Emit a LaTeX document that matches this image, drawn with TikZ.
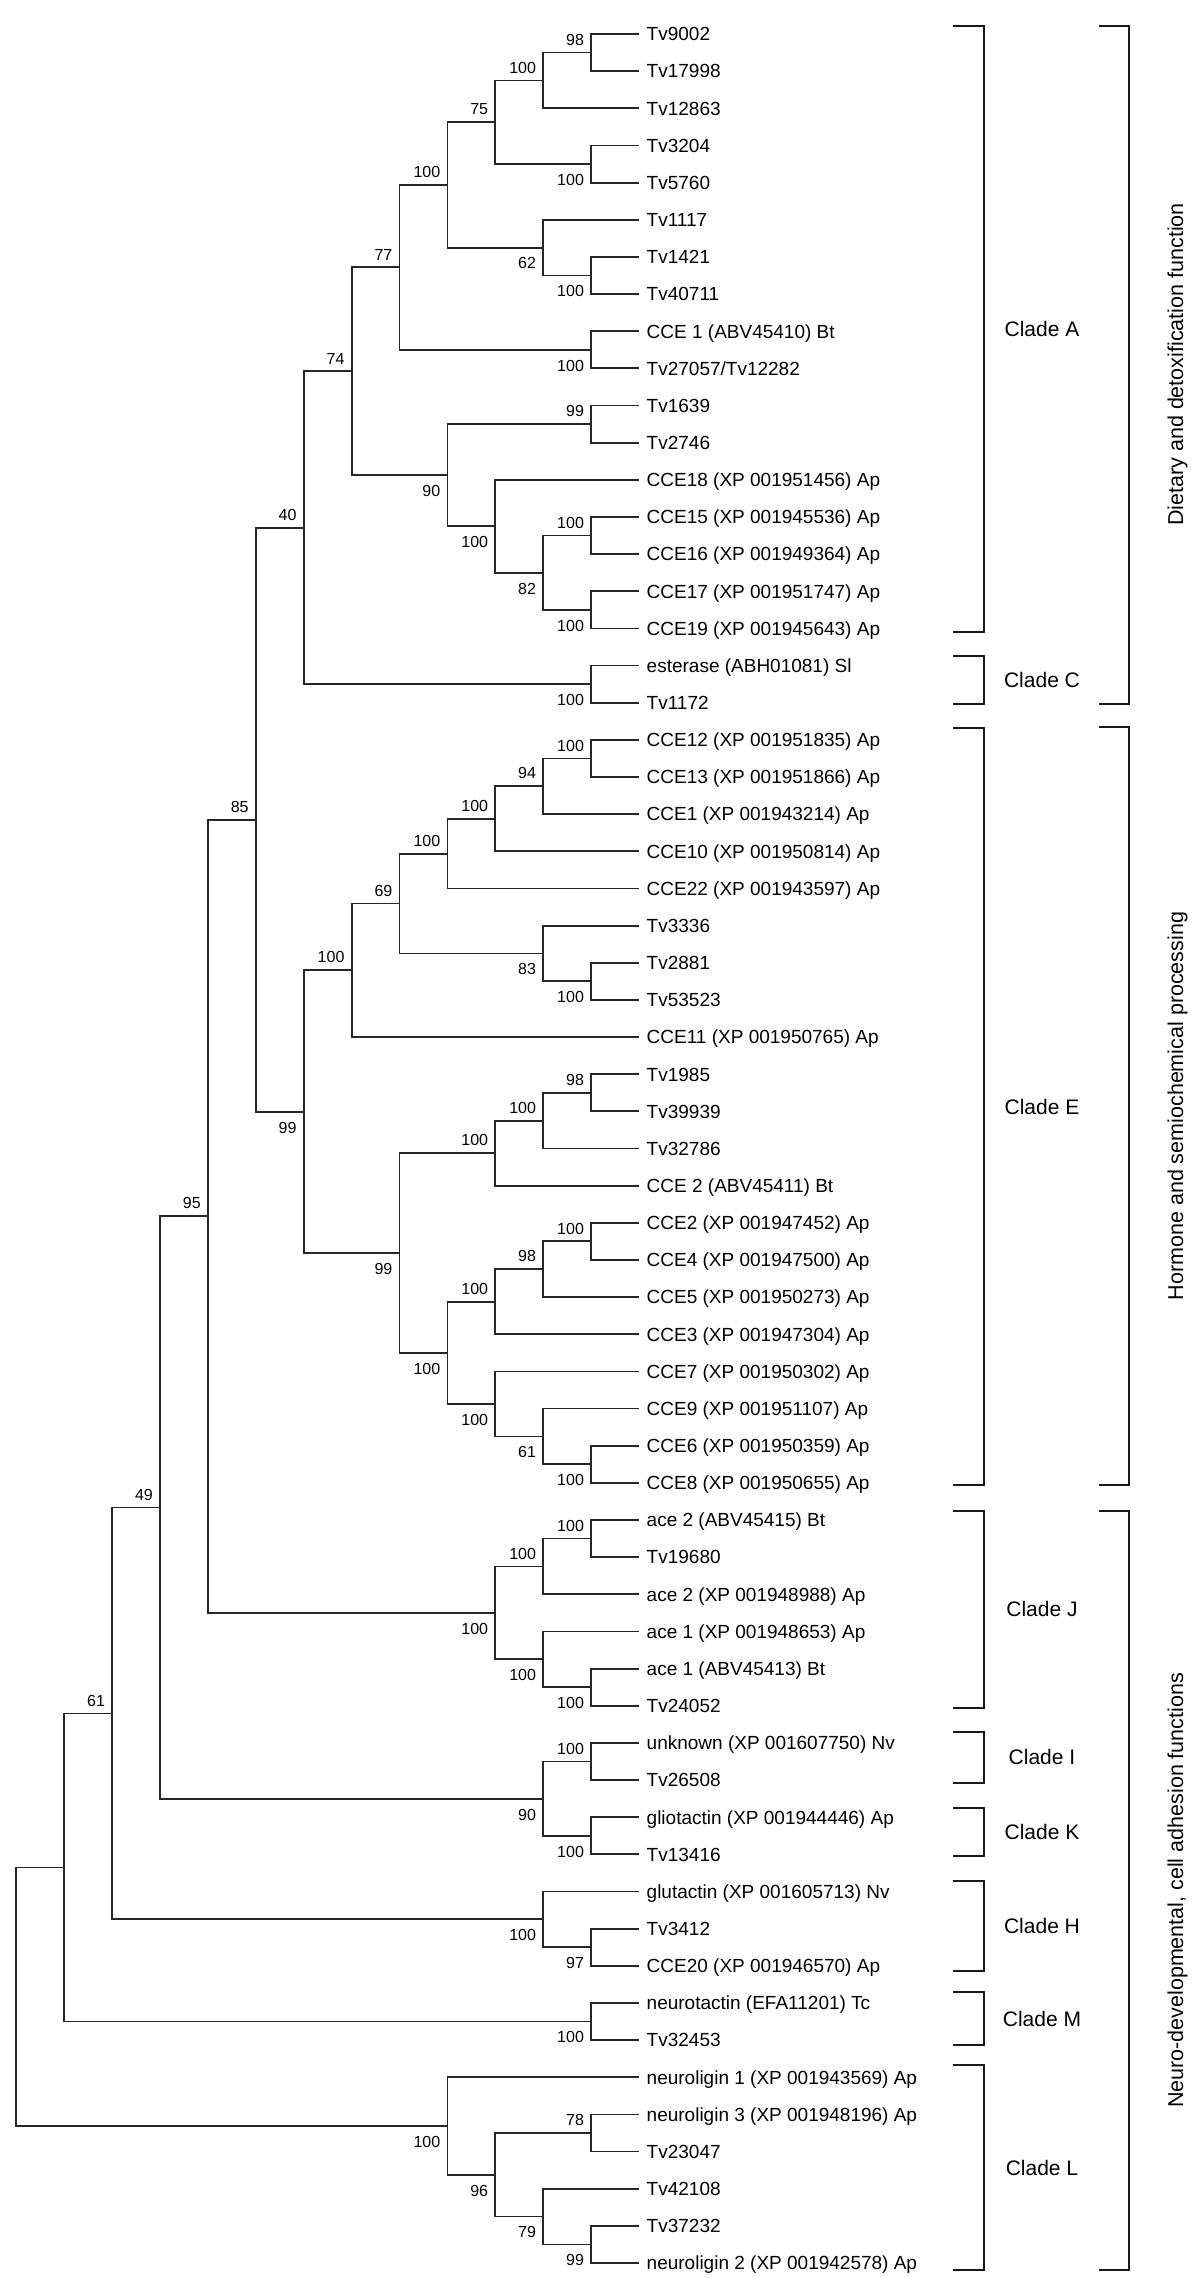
\documentclass[tikz,border=0pt]{standalone}
\usepackage{fontspec}
\setmainfont{Liberation Sans}
\usetikzlibrary{calc}
\tikzset{
 branch/.style={line width=1.8pt, draw=black!85},
 bracketline/.style={line width=2pt, draw=black!90},
 leaftext/.style={inner sep=0pt, font=\fontsize{19}{22}\selectfont},
 boot/.style={inner sep=0pt, font=\fontsize{16}{19}\selectfont},
 cladetext/.style={inner sep=0pt, font=\fontsize{21}{25}\selectfont},
 sidetext/.style={inner sep=0pt, font=\fontsize{21.5}{25}\selectfont},
}
\newcommand\leaf[2]{%
 \coordinate (L#1) at (639,{34+(#1-1)*37.15});
 \node[leaftext, anchor=base west] (T#1) at ([xshift=7.5pt,yshift=-6.8pt]L#1) {#2};}
\newcommand\inode[4]{%
 \path let \p1=(#3), \p2=(#4) in coordinate (#1) at ({(639-47.9*#2)*1pt},{0.5*(\y1+\y2)});
 \draw[branch] (#1) |- (#3) (#1) |- (#4);}
\newcommand\bup[2]{\node[boot, anchor=south east] (B#1) at ([xshift=-7pt,yshift=7pt]#1) {#2};}
\newcommand\bdn[2]{\node[boot, anchor=north east] (B#1) at ([xshift=-7pt,yshift=-10pt]#1) {#2};}
\newcommand\ibr[2]{\draw[bracketline] (953,#1) -- (984,#1) -- (984,#2) -- (953,#2);}
\newcommand\obr[2]{\draw[bracketline] (1099,#1) -- (1128.7,#1) -- (1128.7,#2) -- (1099,#2);}
\begin{document}
\begin{tikzpicture}[x=1pt,y=-1pt]
\useasboundingbox (0,0) rectangle (1200,2278);
\fill[white] (0,0) rectangle (1200,2278);
% leaves
\leaf{1}{Tv9002}
\leaf{2}{Tv17998}
\leaf{3}{Tv12863}
\leaf{4}{Tv3204}
\leaf{5}{Tv5760}
\leaf{6}{Tv1117}
\leaf{7}{Tv1421}
\leaf{8}{Tv40711}
\leaf{9}{CCE 1 (ABV45410) Bt}
\leaf{10}{Tv27057/Tv12282}
\leaf{11}{Tv1639}
\leaf{12}{Tv2746}
\leaf{13}{CCE18 (XP 001951456) Ap}
\leaf{14}{CCE15 (XP 001945536) Ap}
\leaf{15}{CCE16 (XP 001949364) Ap}
\leaf{16}{CCE17 (XP 001951747) Ap}
\leaf{17}{CCE19 (XP 001945643) Ap}
\leaf{18}{esterase (ABH01081) Sl}
\leaf{19}{Tv1172}
\leaf{20}{CCE12 (XP 001951835) Ap}
\leaf{21}{CCE13 (XP 001951866) Ap}
\leaf{22}{CCE1 (XP 001943214) Ap}
\leaf{23}{CCE10 (XP 001950814) Ap}
\leaf{24}{CCE22 (XP 001943597) Ap}
\leaf{25}{Tv3336}
\leaf{26}{Tv2881}
\leaf{27}{Tv53523}
\leaf{28}{CCE11 (XP 001950765) Ap}
\leaf{29}{Tv1985}
\leaf{30}{Tv39939}
\leaf{31}{Tv32786}
\leaf{32}{CCE 2 (ABV45411) Bt}
\leaf{33}{CCE2 (XP 001947452) Ap}
\leaf{34}{CCE4 (XP 001947500) Ap}
\leaf{35}{CCE5 (XP 001950273) Ap}
\leaf{36}{CCE3 (XP 001947304) Ap}
\leaf{37}{CCE7 (XP 001950302) Ap}
\leaf{38}{CCE9 (XP 001951107) Ap}
\leaf{39}{CCE6 (XP 001950359) Ap}
\leaf{40}{CCE8 (XP 001950655) Ap}
\leaf{41}{ace 2 (ABV45415) Bt}
\leaf{42}{Tv19680}
\leaf{43}{ace 2 (XP 001948988) Ap}
\leaf{44}{ace 1 (XP 001948653) Ap}
\leaf{45}{ace 1 (ABV45413) Bt}
\leaf{46}{Tv24052}
\leaf{47}{unknown (XP 001607750) Nv}
\leaf{48}{Tv26508}
\leaf{49}{gliotactin (XP 001944446) Ap}
\leaf{50}{Tv13416}
\leaf{51}{glutactin (XP 001605713) Nv}
\leaf{52}{Tv3412}
\leaf{53}{CCE20 (XP 001946570) Ap}
\leaf{54}{neurotactin (EFA11201) Tc}
\leaf{55}{Tv32453}
\leaf{56}{neuroligin 1 (XP 001943569) Ap}
\leaf{57}{neuroligin 3 (XP 001948196) Ap}
\leaf{58}{Tv23047}
\leaf{59}{Tv42108}
\leaf{60}{Tv37232}
\leaf{61}{neuroligin 2 (XP 001942578) Ap}
% clade A / C
\inode{a98}{1}{L1}{L2} \bup{a98}{98}
\inode{a100}{2}{a98}{L3} \bup{a100}{100}
\inode{b100}{1}{L4}{L5} \bdn{b100}{100}
\inode{n75}{3}{a100}{b100} \bup{n75}{75}
\inode{c100}{1}{L7}{L8} \bdn{c100}{100}
\inode{n62}{2}{L6}{c100} \bdn{n62}{62}
\inode{d100}{4}{n75}{n62} \bup{d100}{100}
\inode{e100}{1}{L9}{L10} \bdn{e100}{100}
\inode{n77}{5}{d100}{e100} \bup{n77}{77}
\inode{a99}{1}{L11}{L12} \bup{a99}{99}
\inode{f100}{1}{L14}{L15} \bup{f100}{100}
\inode{g100}{1}{L16}{L17} \bdn{g100}{100}
\inode{n82}{2}{f100}{g100} \bdn{n82}{82}
\inode{h100}{3}{L13}{n82} \bdn{h100}{100}
\inode{n90}{4}{a99}{h100} \bdn{n90}{90}
\inode{n74}{6}{n77}{n90} \bup{n74}{74}
\inode{i100}{1}{L18}{L19} \bdn{i100}{100}
\inode{n40}{7}{n74}{i100} \bup{n40}{40}
% clade E
\inode{j100}{1}{L20}{L21} \bup{j100}{100}
\inode{n94}{2}{j100}{L22} \bup{n94}{94}
\inode{k100}{3}{n94}{L23} \bup{k100}{100}
\inode{l100}{4}{k100}{L24} \bup{l100}{100}
\inode{m100}{1}{L26}{L27} \bdn{m100}{100}
\inode{n83}{2}{L25}{m100} \bdn{n83}{83}
\inode{n69}{5}{l100}{n83} \bup{n69}{69}
\inode{o100}{6}{n69}{L28} \bup{o100}{100}
\inode{b98}{1}{L29}{L30} \bup{b98}{98}
\inode{p100}{2}{b98}{L31} \bup{p100}{100}
\inode{q100}{3}{p100}{L32} \bup{q100}{100}
\inode{r100}{1}{L33}{L34} \bup{r100}{100}
\inode{c98}{2}{r100}{L35} \bup{c98}{98}
\inode{s100}{3}{c98}{L36} \bup{s100}{100}
\inode{t100}{1}{L39}{L40} \bdn{t100}{100}
\inode{a61}{2}{L38}{t100} \bdn{a61}{61}
\inode{u100}{3}{L37}{a61} \bdn{u100}{100}
\inode{v100}{4}{s100}{u100} \bdn{v100}{100}
\inode{b99}{5}{q100}{v100} \bdn{b99}{99}
\inode{c99}{7}{o100}{b99} \bdn{c99}{99}
\inode{n85}{8}{n40}{c99} \bup{n85}{85}
% clade J
\inode{w100}{1}{L41}{L42} \bup{w100}{100}
\inode{x100}{2}{w100}{L43} \bup{x100}{100}
\inode{y100}{1}{L45}{L46} \bdn{y100}{100}
\inode{z100}{2}{L44}{y100} \bdn{z100}{100}
\inode{J100}{3}{x100}{z100} \bdn{J100}{100}
\inode{n95}{9}{n85}{J100} \bup{n95}{95}
% clades I, K
\inode{I100}{1}{L47}{L48} \bup{I100}{100}
\inode{K100}{1}{L49}{L50} \bdn{K100}{100}
\inode{b90}{2}{I100}{K100} \bdn{b90}{90}
\inode{n49}{10}{n95}{b90} \bup{n49}{49}
% clade H
\inode{n97}{1}{L52}{L53} \bdn{n97}{97}
\inode{H100}{2}{L51}{n97} \bdn{H100}{100}
\inode{b61}{11}{n49}{H100} \bup{b61}{61}
% clade M
\inode{M100}{1}{L54}{L55} \bdn{M100}{100}
\inode{nX}{12}{b61}{M100}
% clade L
\inode{n78}{1}{L57}{L58} \bup{n78}{78}
\inode{d99}{1}{L60}{L61} \bdn{d99}{99}
\inode{n79}{2}{L59}{d99} \bdn{n79}{79}
\inode{n96}{3}{n78}{n79} \bdn{n96}{96}
\inode{nL100}{4}{L56}{n96} \bdn{nL100}{100}
\inode{root}{13}{nX}{nL100}
% clade brackets
\ibr{25.5}{631.7}
\ibr{656}{704.3}
\ibr{728.3}{1484.7}
\ibr{1510.8}{1708}
\ibr{1732}{1782.7}
\ibr{1807.7}{1856}
\ibr{1881.3}{1970.7}
\ibr{1992.3}{2044.7}
\ibr{2065}{2270}
\node[cladetext] (cA) at (1042,328.6) {Clade A};
\node[cladetext] (cC) at (1042,680.2) {Clade C};
\node[cladetext] (cE) at (1042,1106.5) {Clade E};
\node[cladetext] (cJ) at (1042,1609.4) {Clade J};
\node[cladetext] (cI) at (1042,1757.4) {Clade I};
\node[cladetext] (cK) at (1042,1831.9) {Clade K};
\node[cladetext] (cH) at (1042,1926) {Clade H};
\node[cladetext] (cM) at (1042,2018.5) {Clade M};
\node[cladetext] (cL) at (1042,2167.5) {Clade L};
% function brackets
\obr{25.5}{703.5}
\obr{727.3}{1484.7}
\obr{1510.8}{2270}
\node[sidetext, rotate=90, anchor=base] (f1) at (1183,364.5) {Dietary and detoxification function};
\node[sidetext, rotate=90, anchor=base] (f2) at (1183,1106) {Hormone and semiochemical processing};
\node[sidetext, rotate=90, anchor=base] (f3) at (1183,1890.4) {Neuro-developmental, cell adhesion functions};
\end{tikzpicture}
\end{document}
